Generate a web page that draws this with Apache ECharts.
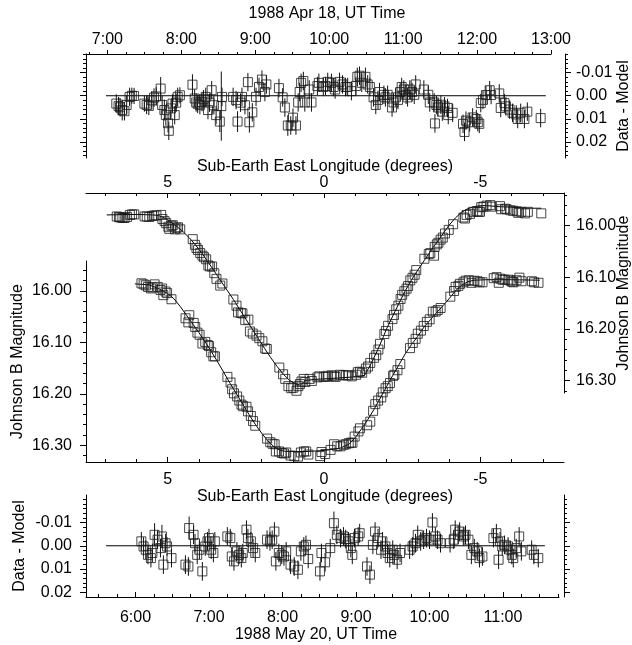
<!DOCTYPE html>
<html><head><meta charset="utf-8">
<script src="https://cdn.jsdelivr.net/npm/echarts@6/dist/echarts.min.js"></script>
<style>html,body{margin:0;padding:0;background:#fff}#c{width:632px;height:645px}</style>
</head><body><div id="c"></div>
<script>
// ---------- tick labels ----------
const aprHourTicks = [7, 8, 9, 10, 11, 12, 13];
const mayHourTicks = [6, 7, 8, 9, 10, 11];
const lonTicks = [5, 0, -5];
const residTicks = [-0.01, 0, 0.01, 0.02];
const magTicks = [16.0, 16.1, 16.2, 16.3];

// ---------- Apr 18 residuals: [UT hour, data - model, error] ----------
const aprResiduals = [
[7.12,0.0034,0.004],[7.15,0.0045,0.004],[7.17,0.0050,0.004],[7.20,0.0062,0.0045],[7.23,0.0067,0.004],[7.26,0.0040,0.004],[7.30,0.0005,0.004],[7.33,0.0000,0.0035],[7.36,0.0001,0.0035],
[7.50,0.0034,0.0035],[7.53,0.0040,0.004],[7.56,0.0044,0.004],[7.60,0.0020,0.004],[7.63,0.0008,0.004],[7.66,0.0003,0.004],[7.72,-0.0031,0.005],[7.74,0.0040,0.004],[7.77,0.0062,0.0045],[7.79,0.0084,0.0045],[7.82,0.0119,0.004],[7.83,0.0152,0.004],[7.86,0.0055,0.004],[7.88,0.0034,0.004],[7.91,0.0084,0.004],[7.93,0.0030,0.004],[7.95,0.0005,0.004],[7.98,-0.0002,0.0035],
[8.15,-0.0048,0.0045],[8.18,0.0012,0.004],[8.20,0.0029,0.004],[8.22,0.0035,0.004],[8.25,0.0041,0.004],[8.28,0.0027,0.004],[8.30,0.0015,0.004],[8.33,0.0005,0.004],[8.36,0.0062,0.004],[8.38,0.0030,0.004],[8.41,-0.0024,0.004],[8.44,0.0041,0.004],[8.47,0.0084,0.004],[8.52,0.0112,0.0045],[8.54,0.0045,0.0150],[8.55,0.0005,0.004],
[8.70,0.0005,0.004],[8.74,0.0019,0.004],[8.76,0.0112,0.0045],[8.80,0.0030,0.004],[8.82,0.0005,0.004],[8.86,0.0041,0.004],[8.90,-0.0059,0.004],[8.92,0.0115,0.0045],[8.96,0.0072,0.004],[9.01,0.0005,0.004],[9.05,-0.0038,0.004],[9.09,-0.0070,0.004],[9.13,-0.0016,0.004],[9.15,-0.0049,0.004],
[9.32,-0.0033,0.004],[9.37,0.0007,0.004],[9.40,0.0051,0.004],[9.44,0.0129,0.0045],[9.48,0.0129,0.004],[9.51,0.0095,0.004],[9.55,0.0129,0.004],[9.58,0.0029,0.004],[9.60,-0.0016,0.004],[9.62,-0.0056,0.004],[9.65,-0.0064,0.004],[9.67,0.0029,0.004],[9.73,-0.0027,0.004],[9.76,0.0029,0.004],
[9.84,-0.0042,0.004],[9.86,-0.0056,0.004],[9.92,-0.0038,0.004],[9.95,-0.0042,0.004],[9.98,-0.0060,0.004],[10.03,-0.0056,0.004],[10.06,-0.0038,0.004],[10.08,-0.0027,0.004],[10.14,-0.0060,0.004],[10.18,-0.0049,0.004],[10.22,-0.0038,0.004],[10.25,-0.0038,0.004],[10.30,-0.0020,0.004],[10.36,-0.0042,0.004],[10.38,-0.0082,0.004],[10.41,-0.0087,0.004],[10.44,-0.0056,0.004],[10.49,-0.0082,0.004],[10.52,-0.0049,0.004],[10.55,-0.0038,0.004],[10.60,0.0007,0.004],[10.63,0.0040,0.004],[10.66,0.0018,0.004],[10.68,-0.0016,0.004],[10.74,-0.0004,0.004],[10.76,0.0007,0.004],[10.79,-0.0004,0.004],[10.85,0.0051,0.004],[10.87,0.0029,0.004],[10.90,0.0007,0.004],[10.93,0.0018,0.004],[10.96,-0.0016,0.004],[10.98,-0.0038,0.004],[11.01,-0.0027,0.004],[11.04,-0.0004,0.004],[11.06,0.0007,0.004],[11.09,-0.0027,0.004],[11.12,-0.0016,0.004],[11.15,-0.0004,0.004],[11.17,-0.0049,0.004],
[11.28,-0.0027,0.004],[11.34,-0.0004,0.004],[11.36,0.0029,0.004],[11.42,0.0029,0.004],[11.43,0.0120,0.004],[11.45,0.0040,0.004],[11.47,0.0051,0.004],[11.51,0.0039,0.004],[11.53,0.0069,0.004],[11.56,0.0046,0.004],[11.60,0.0053,0.004],[11.61,0.0084,0.004],[11.67,0.0074,0.004],
[11.81,0.0122,0.004],[11.83,0.0157,0.004],[11.85,0.0108,0.004],[11.90,0.0115,0.004],[11.94,0.0094,0.004],[11.99,0.0101,0.004],[12.01,0.0115,0.004],[12.03,0.0122,0.004],[12.05,0.0032,0.004],[12.08,0.0018,0.004],[12.12,-0.0003,0.004],[12.17,-0.0024,0.004],[12.19,-0.0003,0.004],
[12.30,-0.0010,0.004],[12.32,0.0053,0.004],[12.37,0.0032,0.004],[12.39,0.0046,0.004],[12.44,0.0060,0.004],[12.48,0.0074,0.004],[12.53,0.0081,0.004],[12.55,0.0101,0.004],[12.59,0.0074,0.004],[12.64,0.0101,0.004],[12.68,0.0069,0.004],[12.86,0.0097,0.004]
];
const aprZeroSpan = [6.98, 12.93];

// ---------- May 20 residuals: [UT hour, data - model, error] ----------
const mayResiduals = [
[6.08,-0.0019,0.004],[6.11,0.0003,0.004],[6.14,0.0017,0.004],[6.17,0.0039,0.004],[6.21,0.0053,0.004],[6.23,0.0031,0.004],[6.26,-0.0047,0.005],[6.30,-0.0026,0.004],[6.34,0.0010,0.004],[6.36,-0.0040,0.005],[6.38,0.0081,0.004],[6.41,-0.0011,0.004],[6.43,0.0003,0.004],[6.49,0.0053,0.004],
[6.68,0.0081,0.004],[6.72,0.0089,0.004],[6.73,-0.0076,0.005],[6.79,-0.0047,0.004],[6.81,-0.0011,0.004],[6.84,0.0039,0.004],[6.87,0.0017,0.004],[6.91,0.0110,0.004],[6.95,0.0003,0.004],[6.98,-0.0019,0.004],[7.00,-0.0033,0.004],[7.03,0.0017,0.004],[7.06,0.0031,0.004],[7.08,-0.0019,0.004],
[7.25,-0.0040,0.004],[7.29,-0.0033,0.004],[7.31,0.0046,0.004],[7.34,0.0067,0.004],[7.38,0.0024,0.004],[7.41,0.0039,0.004],[7.44,0.0053,0.004],[7.46,0.0031,0.004],[7.51,-0.0069,0.004],[7.53,-0.0033,0.004],[7.57,-0.0019,0.004],[7.60,0.0010,0.004],[7.63,0.0031,0.004],
[7.79,-0.0026,0.004],[7.83,-0.0019,0.004],[7.86,-0.0026,0.004],[7.89,-0.0061,0.004],[7.91,0.0067,0.004],[7.95,0.0031,0.004],[7.99,0.0039,0.004],[8.02,0.0046,0.004],[8.05,0.0024,0.004],[8.11,0.0081,0.004],[8.16,0.0089,0.004],[8.21,0.0103,0.004],[8.25,0.0024,0.004],[8.29,0.0003,0.004],[8.32,-0.0004,0.004],[8.35,0.0057,0.004],
[8.51,0.0110,0.004],[8.53,0.0031,0.004],[8.58,0.0071,0.004],[8.65,0.0010,0.004],[8.70,-0.0097,0.005],[8.74,-0.0047,0.004],[8.79,-0.0033,0.004],[8.83,-0.0040,0.004],[8.86,-0.0029,0.004],[8.90,-0.0019,0.004],[8.93,0.0010,0.004],[8.95,0.0039,0.004],[8.98,-0.0033,0.004],[9.03,-0.0040,0.004],[9.05,-0.0054,0.004],
[9.15,0.0089,0.004],[9.19,0.0124,0.004],[9.23,-0.0004,0.004],[9.26,-0.0061,0.004],[9.30,-0.0033,0.004],[9.34,0.0017,0.004],[9.36,-0.0019,0.004],[9.40,0.0003,0.004],[9.43,0.0031,0.004],[9.46,0.0053,0.004],[9.50,0.0017,0.004],[9.52,0.0039,0.004],[9.56,0.0060,0.004],[9.60,0.0031,0.004],
[9.73,0.0017,0.004],[9.77,0.0003,0.004],[9.81,-0.0011,0.004],[9.84,-0.0047,0.004],[9.88,-0.0019,0.004],[9.92,-0.0026,0.004],[9.96,-0.0033,0.004],[10.00,-0.0026,0.004],[10.04,-0.0100,0.004],[10.08,-0.0040,0.004],[10.11,-0.0026,0.004],[10.15,-0.0011,0.004],
[10.28,-0.0011,0.004],[10.33,-0.0026,0.004],[10.35,-0.0069,0.004],[10.39,-0.0047,0.004],[10.41,-0.0061,0.004],[10.46,-0.0040,0.004],[10.49,-0.0047,0.004],[10.53,-0.0026,0.004],[10.57,0.0039,0.004],[10.61,0.0010,0.004],[10.65,0.0024,0.004],[10.68,0.0053,0.004],[10.72,0.0046,0.004],
[10.87,-0.0033,0.004],[10.91,-0.0054,0.004],[10.94,0.0060,0.004],[10.96,-0.0019,0.004],[10.99,0.0003,0.004],[11.02,-0.0004,0.004],[11.07,0.0003,0.004],[11.10,0.0017,0.004],[11.12,0.0039,0.004],[11.14,0.0053,0.004],[11.18,0.0010,0.004],[11.22,-0.0040,0.004],[11.25,0.0024,0.004],
[11.39,0.0017,0.004],[11.42,0.0039,0.004],[11.48,0.0053,0.004]
];
const mayZeroSpan = [5.60, 11.57];

// ---------- light curves: [sub-Earth east longitude, Johnson B magnitude] ----------
const aprCurve = [
[6.63,15.982],[6.56,15.983],[6.52,15.984],[6.45,15.985],[6.38,15.985],[6.30,15.983],[6.21,15.979],[6.14,15.978],[6.07,15.978],
[5.74,15.982],[5.67,15.982],[5.59,15.983],[5.50,15.981],[5.43,15.980],[5.36,15.980],[5.21,15.979],[5.17,15.987],[5.10,15.991],[5.05,15.995],[4.98,16.002],[4.95,16.006],[4.88,16.000],[4.84,15.999],[4.77,16.007],[4.72,16.004],[4.67,16.003],[4.60,16.007],
[4.20,16.026],[4.13,16.037],[4.08,16.043],[4.03,16.047],[3.96,16.053],[3.89,16.058],[3.84,16.061],[3.77,16.065],[3.70,16.077],[3.65,16.079],[3.58,16.079],[3.51,16.092],[3.44,16.103],[3.32,16.116],[3.25,16.112],
[2.90,16.143],[2.80,16.155],[2.75,16.168],[2.66,16.169],[2.61,16.170],[2.52,16.183],[2.42,16.182],[2.37,16.205],[2.28,16.209],[2.16,16.213],[2.07,16.218],[1.97,16.224],[1.88,16.238],[1.83,16.239],
[1.43,16.275],[1.31,16.288],[1.24,16.297],[1.14,16.311],[1.05,16.315],[0.98,16.314],[0.88,16.320],[0.82,16.311],[0.77,16.307],[0.72,16.302],[0.65,16.297],[0.60,16.303],[0.46,16.297],[0.39,16.301],
[0.21,16.294],[0.15,16.292],[0.01,16.293],[-0.06,16.293],[-0.13,16.291],[-0.25,16.290],[-0.32,16.292],[-0.37,16.293],[-0.51,16.289],[-0.61,16.290],[-0.70,16.290],[-0.77,16.290],[-0.89,16.292],[-1.03,16.289],[-1.08,16.284],[-1.15,16.283],[-1.22,16.285],[-1.34,16.277],[-1.41,16.273],[-1.48,16.266],[-1.60,16.256],[-1.67,16.251],[-1.74,16.240],[-1.79,16.229],[-1.93,16.210],[-1.98,16.204],[-2.05,16.194],[-2.19,16.181],[-2.24,16.173],[-2.31,16.162],[-2.38,16.155],[-2.45,16.142],[-2.50,16.134],[-2.57,16.127],[-2.64,16.122],[-2.69,16.117],[-2.76,16.106],[-2.83,16.101],[-2.90,16.095],[-2.95,16.086],
[-3.21,16.064],[-3.35,16.055],[-3.40,16.053],[-3.52,16.058],[-3.54,16.041],[-3.61,16.036],[-3.66,16.033],[-3.73,16.027],[-3.80,16.023],[-3.87,16.015],[-3.99,16.008],[-4.13,15.997],
[-4.46,15.984],[-4.51,15.986],[-4.56,15.979],[-4.67,15.977],[-4.77,15.973],[-4.89,15.972],[-4.94,15.973],[-4.99,15.973],[-5.03,15.964],[-5.10,15.963],[-5.20,15.961],[-5.32,15.960],[-5.37,15.963],
[-5.63,15.962],[-5.67,15.968],[-5.79,15.967],[-5.84,15.968],[-5.96,15.970],[-6.05,15.971],[-6.17,15.972],[-6.22,15.975],[-6.31,15.973],[-6.43,15.976],[-6.52,15.973],[-6.95,15.976]
];
const aprModel = [
[6.95,15.979],[6.0,15.978],[5.5,15.979],[5.3,15.980],[5.1,15.985],[4.9,15.993],[4.7,16.002],[4.5,16.012],[4.3,16.024],[4.1,16.038],[3.9,16.054],[3.7,16.071],[3.5,16.089],[3.3,16.107],[3.1,16.125],[2.9,16.143],[2.7,16.162],[2.5,16.181],[2.3,16.200],[2.1,16.219],[1.9,16.238],[1.7,16.256],[1.5,16.273],[1.3,16.288],[1.1,16.300],[0.9,16.307],[0.75,16.309],[0.6,16.300],[0.3,16.298],[0.0,16.297],[-0.5,16.295],[-1.0,16.293],[-1.3,16.290],[-1.5,16.268],[-1.7,16.243],[-1.9,16.215],[-2.0,16.200],[-2.2,16.175],[-2.4,16.150],[-2.6,16.126],[-2.8,16.105],[-3.0,16.086],[-3.2,16.068],[-3.4,16.050],[-3.6,16.033],[-3.8,16.016],[-4.0,15.999],[-4.2,15.985],[-4.4,15.974],[-4.6,15.967],[-4.8,15.963],[-5.0,15.961],[-5.2,15.961],[-5.6,15.963],[-6.0,15.964],[-6.5,15.966],[-6.95,15.966]
];
const mayCurve = [
[5.84,15.985],[5.77,15.987],[5.70,15.989],[5.63,15.992],[5.54,15.995],[5.49,15.993],[5.42,15.987],[5.32,15.992],[5.23,15.998],[5.18,15.995],[5.14,16.008],[5.07,16.001],[5.02,16.004],[4.88,16.016],
[4.43,16.053],[4.34,16.061],[4.31,16.047],[4.17,16.062],[4.12,16.070],[4.05,16.081],[3.98,16.085],[3.89,16.102],[3.80,16.099],[3.72,16.105],[3.68,16.107],[3.61,16.119],[3.54,16.127],[3.49,16.127],
[3.09,16.167],[2.99,16.178],[2.94,16.191],[2.88,16.199],[2.78,16.205],[2.71,16.213],[2.64,16.221],[2.59,16.224],[2.48,16.225],[2.43,16.234],[2.34,16.243],[2.27,16.253],[2.20,16.262],
[1.82,16.287],[1.72,16.294],[1.65,16.297],[1.58,16.298],[1.54,16.312],[1.44,16.312],[1.35,16.315],[1.28,16.316],[1.21,16.314],[1.07,16.320],[0.95,16.321],[0.83,16.322],[0.74,16.314],[0.64,16.312],[0.57,16.312],[0.50,16.318],
[0.12,16.321],[0.08,16.313],[-0.04,16.317],[-0.21,16.309],[-0.32,16.298],[-0.42,16.302],[-0.53,16.302],[-0.63,16.299],[-0.70,16.298],[-0.79,16.296],[-0.86,16.295],[-0.91,16.295],[-0.98,16.283],[-1.10,16.273],[-1.15,16.267],
[-1.38,16.261],[-1.48,16.254],[-1.57,16.233],[-1.64,16.220],[-1.73,16.213],[-1.83,16.207],[-1.88,16.197],[-1.97,16.189],[-2.04,16.185],[-2.11,16.179],[-2.21,16.165],[-2.25,16.163],[-2.35,16.154],[-2.44,16.142],
[-2.75,16.111],[-2.84,16.101],[-2.93,16.093],[-3.00,16.083],[-3.10,16.077],[-3.19,16.068],[-3.29,16.060],[-3.38,16.055],[-3.48,16.040],[-3.57,16.040],[-3.64,16.037],[-3.73,16.033],
[-4.04,16.011],[-4.16,16.000],[-4.21,15.992],[-4.30,15.990],[-4.35,15.986],[-4.46,15.983],[-4.53,15.980],[-4.63,15.979],[-4.72,15.984],[-4.81,15.980],[-4.91,15.981],[-4.98,15.983],[-5.07,15.983],
[-5.43,15.975],[-5.52,15.973],[-5.59,15.984],[-5.64,15.976],[-5.71,15.978],[-5.78,15.978],[-5.90,15.978],[-5.97,15.980],[-6.02,15.982],[-6.06,15.983],[-6.16,15.979],[-6.25,15.974],[-6.32,15.981],
[-6.65,15.981],[-6.72,15.983],[-6.86,15.984]
];
const mayModel = [
[6.05,15.986],[5.6,15.988],[5.3,15.995],[5.0,16.005],[4.8,16.015],[4.6,16.030],[4.4,16.047],[4.2,16.064],[4.0,16.081],[3.8,16.099],[3.6,16.118],[3.4,16.138],[3.2,16.159],[3.0,16.180],[2.8,16.200],[2.6,16.220],[2.4,16.240],[2.2,16.259],[2.0,16.276],[1.8,16.291],[1.6,16.303],[1.4,16.310],[1.2,16.312],[0.5,16.312],[0.0,16.310],[-0.5,16.306],[-0.8,16.298],[-1.0,16.285],[-1.2,16.268],[-1.4,16.250],[-1.6,16.230],[-1.8,16.208],[-2.0,16.186],[-2.2,16.164],[-2.4,16.143],[-2.6,16.122],[-2.8,16.104],[-3.0,16.088],[-3.2,16.070],[-3.4,16.056],[-3.6,16.042],[-3.8,16.029],[-4.0,16.015],[-4.2,16.000],[-4.4,15.989],[-4.6,15.982],[-4.8,15.979],[-5.2,15.978],[-6.0,15.978],[-6.9,15.979]
];

// ---------- minor tick positions ----------
function steps(a, b, s) { const o = []; const n = Math.round((b - a) / s); for (let i = 0; i <= n; i++) o.push(+(a + i * s).toFixed(4)); return o; }
const aprQuarterTicks = steps(6.75, 13, 0.25);
const mayQuarterTicks = steps(5.5, 11.75, 0.25);
const lonMinorTicks = steps(-7, 7, 1);
const aprResidMinor = steps(-0.018, 0.026, 0.002);
const mayResidMinor = steps(-0.020, 0.020, 0.002);
const aprMagMinor = steps(15.94, 16.32, 0.02);
const mayMagMinor = steps(15.96, 16.32, 0.02);

// ---------- styling ----------
const FONT = '"Liberation Sans", Arial, Helvetica, sans-serif';
const TXT = { color: '#000', fontFamily: FONT, fontSize: 16 };
const LS = { color: '#000', width: 1 };

function ax(o) {
  const a = {
    type: 'value', gridIndex: o.grid, position: o.pos, min: o.min, max: o.max, inverse: !!o.inverse,
    offset: o.offset || 0, silent: true, splitLine: { show: false },
    axisLine: { show: o.line !== false, onZero: false, lineStyle: LS },
    axisTick: { show: true, inside: !!o.inside, length: o.tlen, customValues: o.ticks, lineStyle: LS },
    axisLabel: o.labels ? Object.assign({ show: true, customValues: o.labels, formatter: o.fmt, margin: o.margin }, TXT) : { show: false }
  };
  if (o.name) {
    a.name = o.name; a.nameLocation = 'middle'; a.nameGap = o.gap;
    a.nameTextStyle = Object.assign({}, TXT, o.namePad ? { padding: o.namePad } : {});
    if (o.rot != null) { a.nameRotate = o.rot; a.nameMoveOverlap = false; }
  }
  return a;
}
const hourFmt = v => Math.round(v) + ':00';
const lonFmt = v => String(Math.round(v));
const resFmt = v => v.toFixed(2);
const magFmt = v => v.toFixed(2);

const LON_MIN = -7.677, LON_MAX = 7.614;

const xAxis = [
  ax({ grid: 0, pos: 'top', min: 6.71, max: 13, ticks: aprHourTicks, tlen: 4, labels: aprHourTicks, fmt: hourFmt, margin: 6,
       name: '1988 Apr 18, UT Time', gap: 32, namePad: [0, 0, 0, 17] }),
  ax({ grid: 0, pos: 'top', min: 6.71, max: 13, ticks: aprQuarterTicks, tlen: 2, line: false }),
  ax({ grid: 1, pos: 'top', min: LON_MIN, max: LON_MAX, inverse: true, ticks: lonTicks, tlen: 5, inside: true, labels: lonTicks, fmt: lonFmt, margin: 2,
       name: 'Sub-Earth East Longitude (degrees)', gap: 17 }),
  ax({ grid: 1, pos: 'top', min: LON_MIN, max: LON_MAX, inverse: true, ticks: lonMinorTicks, tlen: 3, inside: true, line: false }),
  ax({ grid: 2, pos: 'bottom', min: LON_MIN, max: LON_MAX, inverse: true, ticks: lonTicks, tlen: 5, inside: true, labels: lonTicks, fmt: lonFmt, margin: 10,
       name: 'Sub-Earth East Longitude (degrees)', gap: 25 }),
  ax({ grid: 2, pos: 'bottom', min: LON_MIN, max: LON_MAX, inverse: true, ticks: lonMinorTicks, tlen: 3, inside: true, line: false }),
  ax({ grid: 3, pos: 'bottom', min: 5.327, max: 11.762, ticks: mayHourTicks, tlen: 5, inside: true, labels: mayHourTicks, fmt: hourFmt, margin: 13,
       name: '1988 May 20, UT Time', gap: 26, namePad: [0, 13, 0, 0] }),
  ax({ grid: 3, pos: 'bottom', min: 5.327, max: 11.762, ticks: mayQuarterTicks, tlen: 3, inside: true, line: false })
];

const yAxis = [
  ax({ grid: 0, pos: 'left', min: -0.0181, max: 0.027, inverse: true, ticks: residTicks, tlen: 6 }),
  ax({ grid: 0, pos: 'left', min: -0.0181, max: 0.027, inverse: true, ticks: aprResidMinor, tlen: 3, line: false }),
  ax({ grid: 0, pos: 'right', offset: 14, min: -0.0181, max: 0.027, inverse: true, ticks: residTicks, tlen: 6, labels: residTicks, fmt: resFmt, margin: 11,
       name: 'Data - Model', gap: 51, rot: 90 }),
  ax({ grid: 0, pos: 'right', offset: 14, min: -0.0181, max: 0.027, inverse: true, ticks: aprResidMinor, tlen: 3, line: false }),
  ax({ grid: 1, pos: 'right', min: 15.9365, max: 16.3243, inverse: true, ticks: magTicks, tlen: 6, labels: magTicks, fmt: magFmt, margin: 12,
       name: 'Johnson B Magnitude', gap: 52, rot: 90 }),
  ax({ grid: 1, pos: 'right', min: 15.9365, max: 16.3243, inverse: true, ticks: aprMagMinor, tlen: 3, line: false }),
  ax({ grid: 2, pos: 'left', min: 15.9416, max: 16.3325, inverse: true, ticks: magTicks, tlen: 6, labels: magTicks, fmt: magFmt, margin: 14,
       name: 'Johnson B Magnitude', gap: 60, rot: 90 }),
  ax({ grid: 2, pos: 'left', min: 15.9416, max: 16.3325, inverse: true, ticks: mayMagMinor, tlen: 3, line: false }),
  ax({ grid: 3, pos: 'left', min: -0.0218, max: 0.022, inverse: true, ticks: residTicks, tlen: 6, labels: residTicks, fmt: resFmt, margin: 14,
       name: 'Data - Model', gap: 58, rot: 90 }),
  ax({ grid: 3, pos: 'left', min: -0.0218, max: 0.022, inverse: true, ticks: mayResidMinor, tlen: 3, line: false }),
  ax({ grid: 3, pos: 'right', offset: 5, min: -0.0218, max: 0.022, inverse: true, ticks: residTicks, tlen: 6 }),
  ax({ grid: 3, pos: 'right', offset: 5, min: -0.0218, max: 0.022, inverse: true, ticks: mayResidMinor, tlen: 3, line: false })
];

const grid = [
  { left: 86, top: 54, width: 465, height: 104 },
  { left: 86, top: 193, width: 478, height: 200 },
  { left: 86, top: 261, width: 478, height: 201 },
  { left: 86, top: 495, width: 473, height: 102 }
].map(g => Object.assign(g, { containLabel: false, outerBoundsMode: 'none', show: false }));

function errRender(params, api) {
  const x = api.value(0), y = api.value(1), e = api.value(2);
  const p1 = api.coord([x, y - e]), p2 = api.coord([x, y + e]);
  return { type: 'line', shape: { x1: p1[0], y1: p1[1], x2: p2[0], y2: p2[1] }, style: { stroke: '#111', lineWidth: 1 } };
}
const SQ = { color: 'rgba(0,0,0,0)', borderColor: '#1a1a1a', borderWidth: 1 };
function squares(data, xi, yi) {
  return { type: 'scatter', xAxisIndex: xi, yAxisIndex: yi, data: data, symbol: 'rect', symbolSize: 9, itemStyle: SQ, silent: true, z: 3 };
}
function errors(data, xi, yi) {
  return { type: 'custom', xAxisIndex: xi, yAxisIndex: yi, data: data, renderItem: errRender, encode: { x: 0, y: 1 }, silent: true, z: 2 };
}
function curve(data, xi, yi) {
  return { type: 'line', xAxisIndex: xi, yAxisIndex: yi, data: data, showSymbol: false, symbol: 'none', lineStyle: { color: '#000', width: 1 }, silent: true, z: 1 };
}

const option = {
  animation: false,
  backgroundColor: '#fff',
  grid: grid, xAxis: xAxis, yAxis: yAxis,
  series: [
    curve([[aprZeroSpan[0], 0], [aprZeroSpan[1], 0]], 0, 0),
    errors(aprResiduals, 0, 0),
    squares(aprResiduals.map(r => [r[0], r[1]]), 0, 0),
    curve(aprModel, 2, 4),
    squares(aprCurve, 2, 4),
    curve(mayModel, 4, 6),
    squares(mayCurve, 4, 6),
    curve([[mayZeroSpan[0], 0], [mayZeroSpan[1], 0]], 6, 8),
    errors(mayResiduals, 6, 8),
    squares(mayResiduals.map(r => [r[0], r[1]]), 6, 8)
  ]
};
const chart = echarts.init(document.getElementById('c'), null, { renderer: 'canvas' });
chart.setOption(option);
</script>
</body></html>
